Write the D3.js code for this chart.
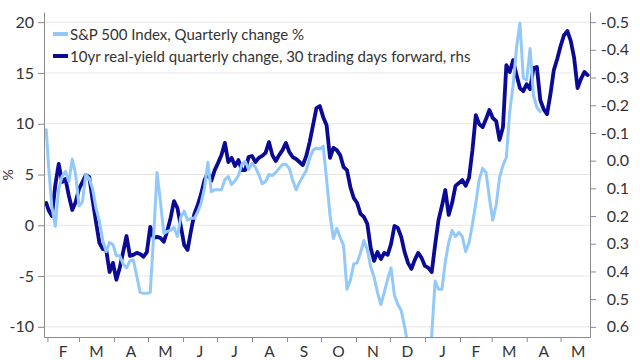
<!DOCTYPE html>
<html><head><meta charset="utf-8">
<script src="https://cdn.jsdelivr.net/npm/d3@7"></script>
<style>
body{margin:0;background:#fff;}
svg text{font-family:Lato,"Noto Sans",sans-serif;fill:#333;}
</style></head>
<body><svg id="c" width="640" height="360"></svg>
<script>
// ---- data ----
const dates = [
"2018-01-31",
"2018-02-02","2018-02-05","2018-02-08","2018-02-11","2018-02-14","2018-02-17","2018-02-20","2018-02-23","2018-02-26",
"2018-03-01","2018-03-04","2018-03-07","2018-03-10","2018-03-13","2018-03-16","2018-03-19","2018-03-22","2018-03-25","2018-03-28","2018-03-31",
"2018-04-03","2018-04-06","2018-04-09","2018-04-12","2018-04-15","2018-04-18","2018-04-21","2018-04-24","2018-04-27","2018-04-30",
"2018-05-03","2018-05-06","2018-05-09","2018-05-12","2018-05-15","2018-05-18","2018-05-21","2018-05-24","2018-05-27","2018-05-30",
"2018-06-02","2018-06-05","2018-06-08","2018-06-11","2018-06-14","2018-06-17","2018-06-20","2018-06-23","2018-06-26","2018-06-29",
"2018-07-02","2018-07-05","2018-07-08","2018-07-11","2018-07-14","2018-07-17","2018-07-20","2018-07-23","2018-07-26","2018-07-29",
"2018-08-01","2018-08-04","2018-08-07","2018-08-10","2018-08-13","2018-08-16","2018-08-19","2018-08-22","2018-08-25","2018-08-28","2018-08-31",
"2018-09-03","2018-09-06","2018-09-09","2018-09-12","2018-09-15","2018-09-18","2018-09-21","2018-09-24","2018-09-27","2018-09-30",
"2018-10-03","2018-10-06","2018-10-09","2018-10-12","2018-10-15","2018-10-18","2018-10-21","2018-10-24","2018-10-27","2018-10-30",
"2018-11-02","2018-11-05","2018-11-08","2018-11-11","2018-11-14","2018-11-17","2018-11-20","2018-11-23","2018-11-26","2018-11-29",
"2018-12-02","2018-12-05","2018-12-08","2018-12-11","2018-12-14","2018-12-17","2018-12-20","2018-12-23","2018-12-26","2018-12-29",
"2019-01-01","2019-01-04","2019-01-07","2019-01-10","2019-01-13","2019-01-16","2019-01-19","2019-01-22","2019-01-25","2019-01-28","2019-01-31",
"2019-02-03","2019-02-06","2019-02-09","2019-02-12","2019-02-15","2019-02-18","2019-02-21","2019-02-24","2019-02-27",
"2019-03-02","2019-03-05","2019-03-08","2019-03-11","2019-03-14","2019-03-17","2019-03-20","2019-03-23","2019-03-26","2019-03-29",
"2019-04-01","2019-04-04","2019-04-07","2019-04-10","2019-04-13","2019-04-16","2019-04-19","2019-04-22","2019-04-25","2019-04-28",
"2019-05-01","2019-05-04","2019-05-07","2019-05-10","2019-05-13","2019-05-16","2019-05-19","2019-05-22","2019-05-25"
];
// S&P 500 Index, quarterly change % (left axis)
const spxChange = [
9.4,
5.9,1.8,-0.1,3.6,4.8,5.3,4.3,6.5,5.0,
1.9,2.3,5.0,4.6,3.6,1.7,0.4,-1.5,-2.6,-1.7,-1.9,
-3.0,-3.0,-3.8,-4.2,-3.5,-3.4,-5.0,-6.6,-6.7,-6.7,
-6.6,-1.0,5.2,2.3,-0.8,-0.6,-0.5,-0.2,-1.1,0.8,
1.4,0.5,0.7,0.7,1.3,2.2,3.7,6.2,3.3,3.5,
3.5,3.5,4.5,4.8,4.0,4.4,4.9,6.0,6.3,5.5,
6.1,5.7,5.0,4.1,4.3,5.0,4.9,5.2,5.6,6.0,6.0,
5.6,4.4,3.5,4.2,4.8,5.4,6.6,7.4,7.6,7.5,
7.8,4.5,1.0,-1.3,-0.3,-1.2,-2.0,-6.3,-5.4,-3.8,
-3.7,-2.7,-1.5,-2.4,-4.1,-5.1,-6.6,-7.8,-6.6,-5.3,
-4.2,-6.9,-7.8,-8.4,-10.0,-11.8,-13.0,-13.8,-14.5,-14.5,
-13.5,-12.5,-10.8,-5.5,-6.3,-6.3,-3.6,-1.7,-0.5,-1.1,-0.7,
-1.1,-2.6,-1.7,0.1,2.2,4.5,5.6,5.2,2.7,
0.5,2.0,4.7,5.9,6.7,11.2,13.8,17.5,19.9,14.5,
14.3,17.4,12.8,11.6,11.2,null,null,null,null,null,
null,null,null,null,null,null,null,null,null
];
// 10yr real-yield quarterly change, 30 trading days forward (right axis, inverted)
const realYieldChange = [
0.153,
0.178,0.200,0.088,0.012,0.077,0.066,0.127,0.178,0.149,
0.102,0.077,0.052,0.059,0.142,0.221,0.297,0.319,0.322,0.402,0.369,
0.430,0.387,0.330,0.272,0.344,0.340,0.333,0.337,0.347,0.330,
0.239,0.279,0.275,0.279,0.293,0.254,0.207,0.146,0.171,0.236,
0.304,0.322,0.254,0.192,0.160,0.120,0.070,0.044,0.073,0.034,
0.008,-0.020,-0.064,0.005,-0.010,0.019,-0.002,0.034,0.034,-0.013,
-0.017,0.005,-0.010,-0.017,-0.028,-0.067,-0.020,0.001,-0.020,-0.038,-0.064,
-0.031,-0.013,-0.006,0.005,0.016,-0.017,-0.067,-0.128,-0.190,-0.197,
-0.157,-0.128,-0.010,-0.046,-0.038,-0.020,0.023,0.034,0.095,0.135,
0.153,0.192,0.203,0.228,0.315,0.362,0.330,0.355,0.333,0.340,
0.301,0.236,0.243,0.275,0.330,0.369,0.391,0.358,0.333,0.351,
0.380,0.387,0.402,0.304,0.214,0.164,0.106,0.196,0.153,0.091,0.081,
0.070,0.091,0.062,-0.038,-0.164,-0.132,-0.121,-0.150,-0.183,
-0.154,-0.143,-0.075,-0.121,-0.345,-0.320,-0.363,-0.309,-0.262,-0.251,
-0.276,-0.258,-0.334,-0.338,-0.219,-0.186,-0.168,-0.240,-0.327,-0.367,
-0.414,-0.453,-0.468,-0.432,-0.370,-0.262,-0.295,-0.320,-0.309
];
const leftTicks = [20,15,10,5,0,-5,-10];
const leftTickLabels = ["20","15","10","5","0","-5","-10"];
const rightTicks = [-0.5,-0.4,-0.3,-0.2,-0.1,0.0,0.1,0.2,0.3,0.4,0.5,0.6];
const rightTickLabels = ["-0.5","-0.4","-0.3","-0.2","-0.1","0.0","0.1","0.2","0.3","0.4","0.5","0.6"];
const monthStarts = ["2018-02-01","2018-03-01","2018-04-01","2018-05-01","2018-06-01","2018-07-01","2018-08-01","2018-09-01","2018-10-01","2018-11-01","2018-12-01","2019-01-01","2019-02-01","2019-03-01","2019-04-01","2019-05-01","2019-06-01"];
const monthLabels = ["F","M","A","M","J","J","A","S","O","N","D","J","F","M","A","M"];
const seriesNames = ["S&P 500 Index, Quarterly change %","10yr real-yield quarterly change, 30 trading days forward, rhs"];
const seriesColors = ["#93c9f8","#0a0a96"];
const leftAxisTitle = "%";

// ---- chart ----
const parse = d3.timeParse("%Y-%m-%d");
const svg = d3.select("#c");
const L = 44, R = 590, T = 12, B = 337;
const x = d3.scaleTime().domain([parse("2018-01-29"), parse("2019-05-27")]).range([L, R]);
const yL = d3.scaleLinear().domain([-11, 21]).range([B, T]);
const yR = d3.scaleLinear().domain([0.6367, -0.5367]).range([B, T]);

// gridlines
svg.append("g").selectAll("line").data(leftTicks).join("line")
  .attr("x1", L).attr("x2", R).attr("y1", d => yL(d)).attr("y2", d => yL(d))
  .attr("stroke", "#e6e6e6").attr("stroke-width", 1);

svg.append("defs").append("clipPath").attr("id", "clip")
  .append("rect").attr("x", L).attr("y", T).attr("width", R - L).attr("height", B - T);

const rows = dates.map((d, i) => ({date: parse(d), spx: spxChange[i], ry: realYieldChange[i]}));

const lineRY = d3.line().defined(d => d.ry != null).x(d => x(d.date)).y(d => yR(d.ry));
const lineSPX = d3.line().defined(d => d.spx != null).x(d => x(d.date)).y(d => yL(d.spx));

const plot = svg.append("g").attr("clip-path", "url(#clip)");
plot.append("path").datum(rows).attr("d", lineRY).attr("fill", "none")
  .attr("stroke", seriesColors[1]).attr("stroke-width", 3.8).attr("stroke-linejoin", "round").attr("stroke-linecap", "round");
plot.append("path").datum(rows).attr("d", lineSPX).attr("fill", "none")
  .attr("stroke", seriesColors[0]).attr("stroke-width", 3).attr("stroke-linejoin", "round").attr("stroke-linecap", "round");

// axes
const axisColor = "#8a8a8a";
const gl = svg.append("g").attr("transform", `translate(${L},0)`)
  .call(d3.axisLeft(yL).tickValues(leftTicks).tickFormat((d, i) => leftTickLabels[i]).tickSize(6).tickSizeOuter(0).tickPadding(4));
const gr = svg.append("g").attr("transform", `translate(${R},0)`)
  .call(d3.axisRight(yR).tickValues(rightTicks).tickFormat((d, i) => rightTickLabels[i]).tickSize(6).tickSizeOuter(0).tickPadding(4));
gr.selectAll(".tick text").attr("text-anchor", "end").attr("x", 39);
const monthDates = monthStarts.map(parse);
const gb = svg.append("g").attr("transform", `translate(0,${B})`)
  .call(d3.axisBottom(x).tickValues(monthDates.slice(0, 16)).tickFormat("").tickSize(5).tickSizeOuter(0));
[gl, gr, gb].forEach(g => {
  g.selectAll(".domain").attr("stroke", axisColor);
  g.selectAll(".tick line").attr("stroke", axisColor);
  g.selectAll(".tick text").attr("font-size", 16).attr("fill", "#333").style("font-family", "Lato, 'Noto Sans', sans-serif");
});

// month labels centered in each month
svg.append("g").selectAll("text").data(monthLabels).join("text")
  .attr("x", (d, i) => (x(monthDates[i]) + x(monthDates[i + 1])) / 2)
  .attr("y", 356.5).attr("text-anchor", "middle").attr("font-size", 15.5).text(d => d);

// left axis title
svg.append("text").attr("transform", "translate(13,175) rotate(-90)")
  .attr("text-anchor", "middle").attr("font-size", 14).text(leftAxisTitle);

// legend
const lg = svg.append("g");
seriesNames.forEach((name, i) => {
  const yy = 34 + i * 22;
  lg.append("line").attr("x1", 53).attr("x2", 68).attr("y1", yy).attr("y2", yy)
    .attr("stroke", seriesColors[i]).attr("stroke-width", 4);
  lg.append("text").attr("x", 70).attr("y", yy + 5.5).attr("font-size", 15).text(name);
});
</script>
</body></html>
